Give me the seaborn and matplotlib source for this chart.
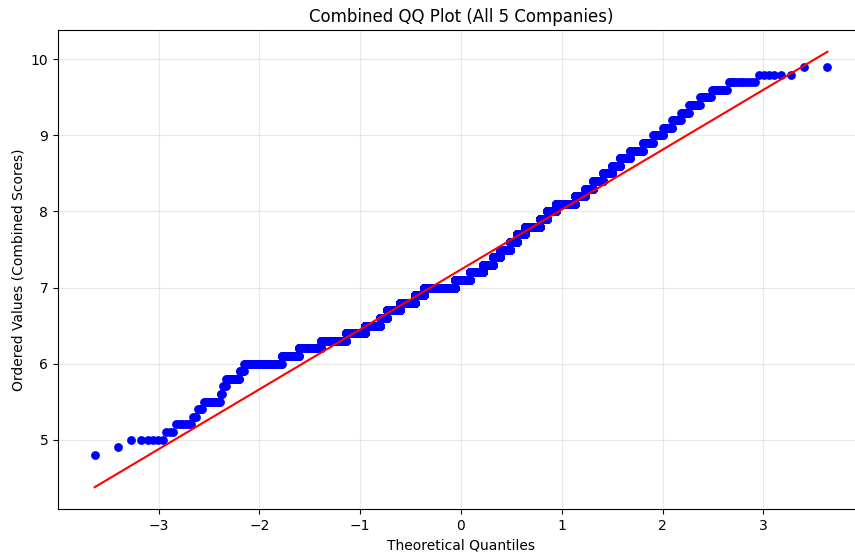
import numpy as np
import pandas as pd
import matplotlib
matplotlib.use("Agg")
import matplotlib.pyplot as plt
import seaborn as sb
from statistics import NormalDist


# combined scores of the 5 companies: score level and how many times it occurs
score_levels = [4.8, 4.9, 5.0, 5.1, 5.2, 5.3, 5.4, 5.5, 5.6, 5.7,
                5.8, 5.9, 6.0, 6.1, 6.2, 6.3, 6.4, 6.5, 6.6, 6.7,
                6.8, 6.9, 7.0, 7.1, 7.2, 7.3, 7.4, 7.5, 7.6, 7.7,
                7.8, 7.9, 8.0, 8.1, 8.2, 8.3, 8.4, 8.5, 8.6, 8.7,
                8.8, 8.9, 9.0, 9.1, 9.2, 9.3, 9.4, 9.5, 9.6, 9.7,
                9.8, 9.9]
score_counts = [1, 1, 6, 3, 8, 3, 4, 16, 3, 4,
                21, 8, 110, 81, 142, 223, 217, 202, 103, 205,
                258, 165, 596, 298, 255, 190, 130, 181, 120, 134,
                230, 99, 119, 220, 99, 70, 79, 62, 48, 53,
                56, 36, 29, 22, 18, 13, 15, 12, 12, 12,
                6, 2]

title = "Combined QQ Plot (All 5 Companies)"
x_label = "Theoretical Quantiles"
y_label = "Ordered Values (Combined Scores)"


ordered = np.repeat(score_levels, score_counts)
n = len(ordered)

# Filliben plotting positions, same as scipy.stats.probplot
pos = (np.arange(1, n + 1) - 0.3175) / (n + 0.365)
pos[-1] = 0.5 ** (1.0 / n)
pos[0] = 1 - pos[-1]
nd = NormalDist()
theo = np.array([nd.inv_cdf(p) for p in pos])

slope, intercept = np.polyfit(theo, ordered, 1)

df_pts = pd.DataFrame({"theo": theo, "val": ordered})
df_fit = pd.DataFrame({"theo": theo, "fit": slope * theo + intercept})


fig = plt.figure(figsize=(8.55, 5.55), dpi=100)
ax = fig.add_axes([0.0678, 0.0829, 0.9427, 0.863])
sb.scatterplot(data=df_pts, x="theo", y="val", color="#0000ff", s=40,
               linewidth=0, ax=ax, zorder=2)
sb.lineplot(data=df_fit, x="theo", y="fit", color="red", linewidth=1.5,
            ax=ax, zorder=3, estimator=None, sort=False)
ax.set_title(title, fontsize=12)
ax.set_xlabel(x_label, fontsize=10)
ax.set_ylabel(y_label, fontsize=10)
ax.grid(True, alpha=0.3)
ax.set_axisbelow(True)

plt.savefig("out.png", dpi=100)
plt.close()
